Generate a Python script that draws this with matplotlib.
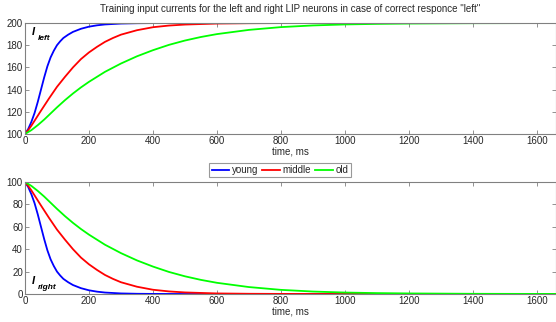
import matplotlib
matplotlib.use("Agg")
import matplotlib.pyplot as plt

plt.rcParams['font.family'] = ['Liberation Sans', 'DejaVu Sans']

# time points (ms)
t_young = [0, 10, 20, 30, 40, 50, 60, 70, 80, 90, 100, 110, 120, 135, 150, 175, 200, 225, 250, 300, 350, 400, 500, 1660]
t_middle = [0, 10, 20, 30, 40, 50, 75, 100, 125, 150, 175, 200, 225, 250, 275, 300, 350, 400, 450, 500, 600, 700, 800, 1000, 1660]
t_old = [0, 20, 40, 60, 80, 100, 125, 150, 175, 200, 250, 300, 350, 400, 450, 500, 550, 600, 700, 800, 900, 1000, 1100, 1200, 1400, 1660]

# I_left (upper panel)
left_young = [100, 104.5, 111, 119, 129, 140, 151, 161, 169, 175, 180, 183.5, 186.5, 189.5, 192, 194.8, 196.7, 197.9, 198.7, 199.5, 199.8, 199.92, 200, 200]
left_middle = [100, 103.5, 107.5, 112, 116.5, 121, 132, 142.5, 151.5, 160, 167.5, 173.5, 178.5, 183, 186.5, 189.5, 193.5, 196.2, 197.7, 198.6, 199.5, 199.8, 199.92, 200, 200]
left_old = [100, 103.5, 108, 113, 118.5, 124, 130.5, 136.5, 142, 147, 156, 163.5, 170, 175.5, 180.3, 184.2, 187.4, 190, 193.8, 196.3, 197.8, 198.7, 199.2, 199.5, 199.82, 199.95]

# I_right (lower panel)
right_young = [100, 95.5, 89, 81, 71, 60, 49, 39, 31, 25, 20, 16.5, 13.5, 10.5, 8, 5.2, 3.3, 2.1, 1.3, 0.5, 0.2, 0.08, 0, 0]
right_middle = [100, 96.5, 92.5, 88, 83.5, 79, 68, 57.5, 48.5, 40, 32.5, 26.5, 21.5, 17, 13.5, 10.5, 6.5, 3.8, 2.3, 1.4, 0.5, 0.2, 0.08, 0, 0]
right_old = [100, 96.5, 92, 87, 81.5, 76, 69.5, 63.5, 58, 53, 44, 36.5, 30, 24.5, 19.7, 15.8, 12.6, 10, 6.2, 3.7, 2.2, 1.3, 0.8, 0.5, 0.18, 0.05]

series_names = ["young", "middle", "old"]
colors = ["#0000ff", "#ff0000", "#00ff00"]
xticks = [0, 200, 400, 600, 800, 1000, 1200, 1400, 1600]

W, H = 556, 322
fig = plt.figure(figsize=(W / 100, H / 100), dpi=100)

def px_axes(l, t, r, b):
    return fig.add_axes([l / W, 1 - b / H, (r - l) / W, (b - t) / H])

ax1 = px_axes(25, 23, 556, 134)
ax2 = px_axes(25, 182, 556, 294)

def style(ax, yticks, ylim):
    ax.set_xlim(0, 1660)
    ax.set_ylim(*ylim)
    ax.set_xticks(xticks)
    ax.set_yticks(yticks)
    ax.tick_params(direction='in', length=3, width=0.6, colors='#808080',
                   labelcolor='#262626', labelsize=7, top=True, right=True, pad=1.5)
    for s in ax.spines.values():
        s.set_color('#808080')
        s.set_linewidth(0.8)
    ax.set_xlabel("time, ms", fontsize=7, color='#262626', labelpad=0)

lines = []
for tt, yy, c, n in zip([t_young, t_middle, t_old], [left_young, left_middle, left_old], colors, series_names):
    ax1.plot(tt, yy, color=c, lw=1.3, label=n)
for tt, yy, c, n in zip([t_young, t_middle, t_old], [right_young, right_middle, right_old], colors, series_names):
    l, = ax2.plot(tt, yy, color=c, lw=1.3, label=n)
    lines.append(l)

style(ax1, [100, 120, 140, 160, 180, 200], (100, 200))
style(ax2, [0, 20, 40, 60, 80, 100], (0, 100))

fig.text(290 / W, 1 - 9 / H, 'Training input currents for the left and right LIP neurons in case of correct responce "left"',
         ha='center', va='center', fontsize=7, color='#262626')

# I labels
def ilabel(ax, x, y, sub):
    ax.text(x, y, "I", transform=ax.transAxes, fontsize=8, fontweight='bold', style='italic',
            ha='left', va='center', color='black')
    ax.text(x + 0.012, y - 0.06, sub, transform=ax.transAxes, fontsize=6, fontweight='bold',
            style='italic', ha='left', va='center', color='black')

ilabel(ax1, 0.012, 0.92, "left")
ilabel(ax2, 0.012, 0.12, "right")

leg = fig.legend(handles=lines, labels=series_names, loc='center', bbox_to_anchor=(280 / W, 1 - 170 / H),
                 ncol=3, fontsize=7, frameon=True, fancybox=False, handlelength=1.8, handletextpad=0.3,
                 columnspacing=0.4, borderpad=0.25, borderaxespad=0)
leg.get_frame().set_edgecolor('#808080')
leg.get_frame().set_linewidth(0.8)
for txt in leg.get_texts():
    txt.set_color('#262626')

fig.savefig("out.png", dpi=100)
